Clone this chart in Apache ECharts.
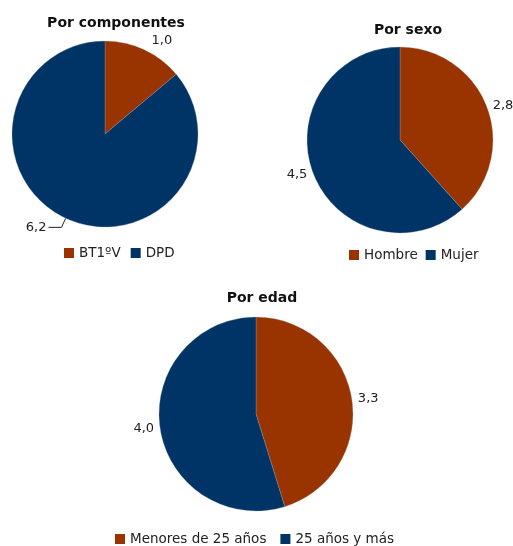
<!DOCTYPE html>
<html><head><meta charset="utf-8">
<script src="https://cdn.jsdelivr.net/npm/echarts@6/dist/echarts.min.js"></script>
<style>html,body{margin:0;padding:0;background:#fff}#c{width:513px;height:546px}</style>
</head><body><div id="c"></div>
<script>
const compCats = ['BT1ºV', 'DPD'];
const compVals = [1.0, 6.2];
const sexoCats = ['Hombre', 'Mujer'];
const sexoVals = [2.8, 4.5];
const edadCats = ['Menores de 25 años', '25 años y más'];
const edadVals = [3.3, 4.0];
const colors = ['#993300', '#003366'];
const FONT = 'DejaVu Sans';

function mk(cats, vals) { return cats.map((c, i) => ({ name: c, value: vals[i] })); }
function fmt(p) { return p.value.toFixed(1).replace('.', ','); }

const chart = echarts.init(document.getElementById('c'));
const baseSeries = {
  type: 'pie', clockwise: true, startAngle: 90, animation: false,
  label: { show: true, position: 'outside', formatter: fmt, color: '#222', fontFamily: FONT, fontSize: 13, distanceToLabelLine: 2, overflow: 'none' },
  labelLine: { show: false, length: 3, length2: 1 },
  itemStyle: { borderColor: '#aaa', borderWidth: 0.3 },
  emphasis: { disabled: true }
};
const legendBase = { itemWidth: 10, itemHeight: 10, icon: 'rect', itemStyle: { borderWidth: 0 }, textStyle: { fontSize: 13.5, color: '#222', fontFamily: FONT } };
const titleStyle = { fontSize: 14, fontWeight: 'bold', color: '#111', fontFamily: FONT };
chart.setOption({
  color: colors,
  textStyle: { fontFamily: FONT },
  title: [
    { text: 'Por componentes', left: 111, top: 11, textAlign: 'center', textStyle: titleStyle },
    { text: 'Por sexo', left: 403, top: 18, textAlign: 'center', textStyle: titleStyle },
    { text: 'Por edad', left: 257, top: 286, textAlign: 'center', textStyle: titleStyle }
  ],
  legend: [
    Object.assign({ data: compCats, top: 241, left: 59, itemGap: 10 }, legendBase),
    Object.assign({ data: sexoCats, top: 243, left: 344, itemGap: 8 }, legendBase),
    Object.assign({ data: edadCats, top: 527, left: 110, itemGap: 14 }, legendBase)
  ],
  series: [
    Object.assign({}, baseSeries, {
      center: [105, 134], radius: 93,
      data: mk(compCats, compVals).map((d, i) => i === 1
        ? Object.assign(d, { labelLine: { show: true, length: 10, length2: 13, lineStyle: { color: '#222', width: 1 } } })
        : Object.assign(d, { labelLine: { show: false, length: 10, length2: 1 } }))
    }),
    Object.assign({}, baseSeries, { center: [400, 140], radius: 93, data: mk(sexoCats, sexoVals) }),
    Object.assign({}, baseSeries, { center: [256, 414], radius: 97, data: mk(edadCats, edadVals) })
  ]
});
</script></body></html>
